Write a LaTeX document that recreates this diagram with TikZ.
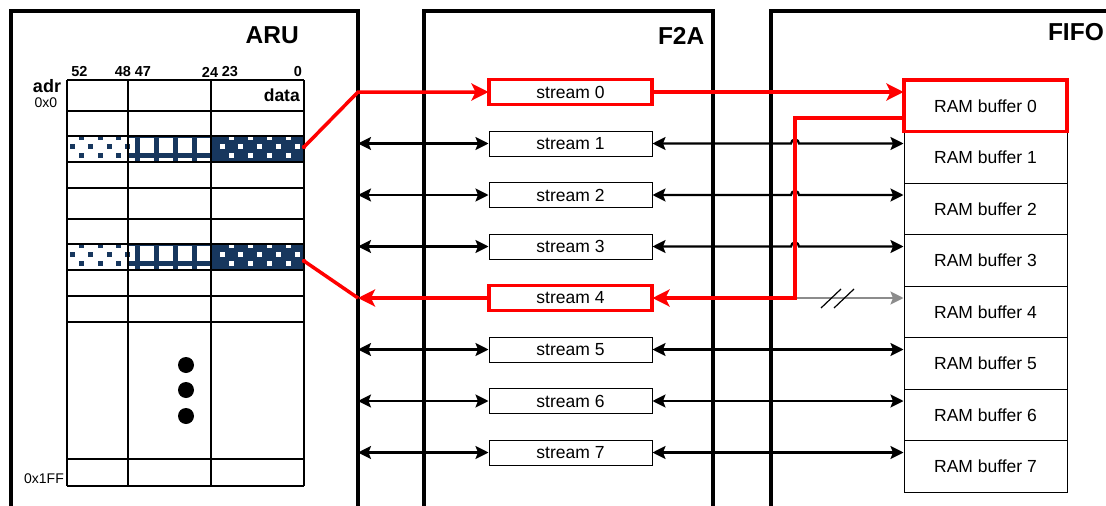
\documentclass[tikz,border=0pt]{standalone}
\usepackage{fontspec}
\setmainfont{Liberation Sans}
\usetikzlibrary{arrows.meta,calc}
\definecolor{navy}{RGB}{23,55,94}
\definecolor{redc}{RGB}{255,0,0}
\definecolor{greyc}{RGB}{140,140,140}
\newcommand{\patrow}[1]{%
  \begin{scope}
    \clip (67,#1) rectangle (304,#1+26);
    \fill[white] (67,#1) rectangle (211,#1+26);
    \fill[navy] (211,#1) rectangle (304,#1+26);
    \foreach \x in {72,90,109,127} \fill[navy] (\x-2.5,#1+7.5) rectangle ++(5,5);
    \foreach \x in {81,100,118} {
      \fill[navy] (\x-2.5,#1-1.5) rectangle ++(5,5);
      \fill[navy] (\x-2.5,#1+16.5) rectangle ++(5,5);
    }
    \foreach \x in {137.5,156,175,194.5} \fill[navy] (\x-2.5,#1) rectangle (\x+2.5,#1+26);
    \fill[navy] (128,#1+16.5) rectangle (211,#1+21.5);
    \fill[navy] (128,#1) rectangle (211,#1+2);
    \foreach \x in {222,240,259,278,297} \fill[white] (\x-2.5,#1+7.5) rectangle ++(5,5);
    \foreach \x in {231,250,269,288} {
      \fill[white] (\x-2.5,#1-1.5) rectangle ++(5,5);
      \fill[white] (\x-2.5,#1+16.5) rectangle ++(5,5);
    }
  \end{scope}}
\begin{document}
\begin{tikzpicture}[x=1pt,y=-1pt,
  outer/.style={line width=3.5pt},
  title/.style={font=\fontsize{24.5}{28}\selectfont\bfseries, inner sep=0pt, anchor=east},
  bits/.style={font=\fontsize{14.5}{16}\selectfont\bfseries, inner sep=0pt},
  addr/.style={font=\fontsize{14}{16}\selectfont, inner sep=0pt},
  grid/.style={line width=1.5pt},
  streambox/.style={draw, line width=1pt, minimum width=163pt, minimum height=25pt, inner sep=0pt, font=\fontsize{17.5}{20}\selectfont},
  rambox/.style={draw, line width=1pt, minimum width=163pt, minimum height=51.5pt, inner sep=0pt, font=\fontsize{17.5}{20}\selectfont},
  hot/.style={draw=redc, line width=3.5pt},
  link/.style={line width=2.2pt, {Stealth[length=13pt,width=13pt,inset=2.5pt]}-{Stealth[length=13pt,width=13pt,inset=2.5pt]}},
  redline/.style={draw=redc, line width=3.5pt, line join=miter},
  redlink/.style={redline, -{Stealth[length=17pt,width=17pt,inset=4pt]}},
  greylink/.style={draw=greyc, line width=2.2pt, -{Stealth[length=13pt,width=13pt,inset=2.5pt]}}
]
\useasboundingbox (0,0) rectangle (1106,506);
\clip (0,0) rectangle (1106,506);

% table patterns
\patrow{136}
\patrow{244}
% table grid
\foreach \x in {67,128,211,304} \draw[grid] (\x,80) -- (\x,486);
\foreach \y in {80,111,136,162,188,219,244,270,296,322,459,486} \draw[grid] (67,\y) -- (304,\y);
\draw[line width=2pt] (67,136) rectangle (304,162);
\draw[line width=2pt] (67,244) rectangle (304,270);

% table labels
\node[bits] (b52) at (79.5,72) {52};
\node[bits] (b48) at (123,72) {48};
\node[bits] (b47) at (143,72) {47};
\node[bits] (b24) at (210,72) {24};
\node[bits] (b23) at (230,72) {23};
\node[bits] (b0) at (298,72) {0};
\node[font=\fontsize{18}{20}\selectfont\bfseries, inner sep=0pt] (adr) at (47,86) {adr};
\node[addr] (a0) at (46,103) {0x0};
\node[font=\fontsize{17.5}{20}\selectfont\bfseries, inner sep=0pt, anchor=east] (data) at (300,95) {data};
\node[addr] (a1ff) at (44,479) {0x1FF};
\foreach \y [count=\i] in {365,390,416} \fill (186,\y) circle[radius=8] coordinate (dot\i);

% outer blocks
\draw[outer] (11,530) -- (11,11) -- (358,11) -- (358,530);
\draw[outer] (424,530) -- (424,11) -- (713,11) -- (713,530);
\draw[outer] (771,530) -- (771,11) -- (1120,11);
\node[title] (aru) at (299,35.5) {ARU};
\node[title] (f2a) at (704.5,36) {F2A};
\node[title] (fifo) at (1104,32) {FIFO};
\coordinate (aruR) at (358,0);
\coordinate (jx) at (795,0);

% streams and RAM buffers
\foreach \k in {0,...,7} {
  \node[streambox] (s\k) at (570.5,92+51.5*\k) {stream \k};
  \node[rambox] (r\k) at (985.5,105.75+51.5*\k) {RAM buffer \k};
}
\node[hot, minimum width=163pt, minimum height=25pt] at (s0) {};
\node[hot, minimum width=163pt, minimum height=51.5pt] at (r0) {};
\node[hot, minimum width=163pt, minimum height=25pt] at (s4) {};

% black links
\foreach \k in {1,2,3,5,6,7} \draw[link] (aruR |- s\k.west) -- (s\k.west);
\foreach \k in {1,2,3} \draw[link] (s\k.east) -- ([xshift=-4pt]jx |- s\k.east) arc[start angle=180, end angle=0, radius=4pt] -- (s\k.east -| r\k.west);
\foreach \k in {5,6,7} \draw[link] (s\k.east) -- (s\k.east -| r\k.west);

% grey link with break marks
\draw[greylink] (jx |- s4.east) -- (s4.east -| r4.west);
\draw[draw=black, line width=1.2pt] (821,308) -- (841,289) (834,308) -- (854,289);

% red paths
\coordinate (pA) at (304,147);
\coordinate (pB) at (304,261);
\coordinate (rb) at (904,118);
\draw[redlink] (pA) -- (aruR |- s0.west) -- (s0.west);
\draw[redlink] (s0.east) -- (s0.east -| r0.west);
\draw[redlink] (rb) -| (jx |- s4.east) -- (s4.east);
\draw[redlink] (s4.west) -- (aruR |- s4.west);
\draw[redline] (aruR |- s4.west) -- (pB);
\fill[redc] (pA) circle[radius=2.2];
\fill[redc] (pB) circle[radius=2.2];
\end{tikzpicture}
\end{document}
